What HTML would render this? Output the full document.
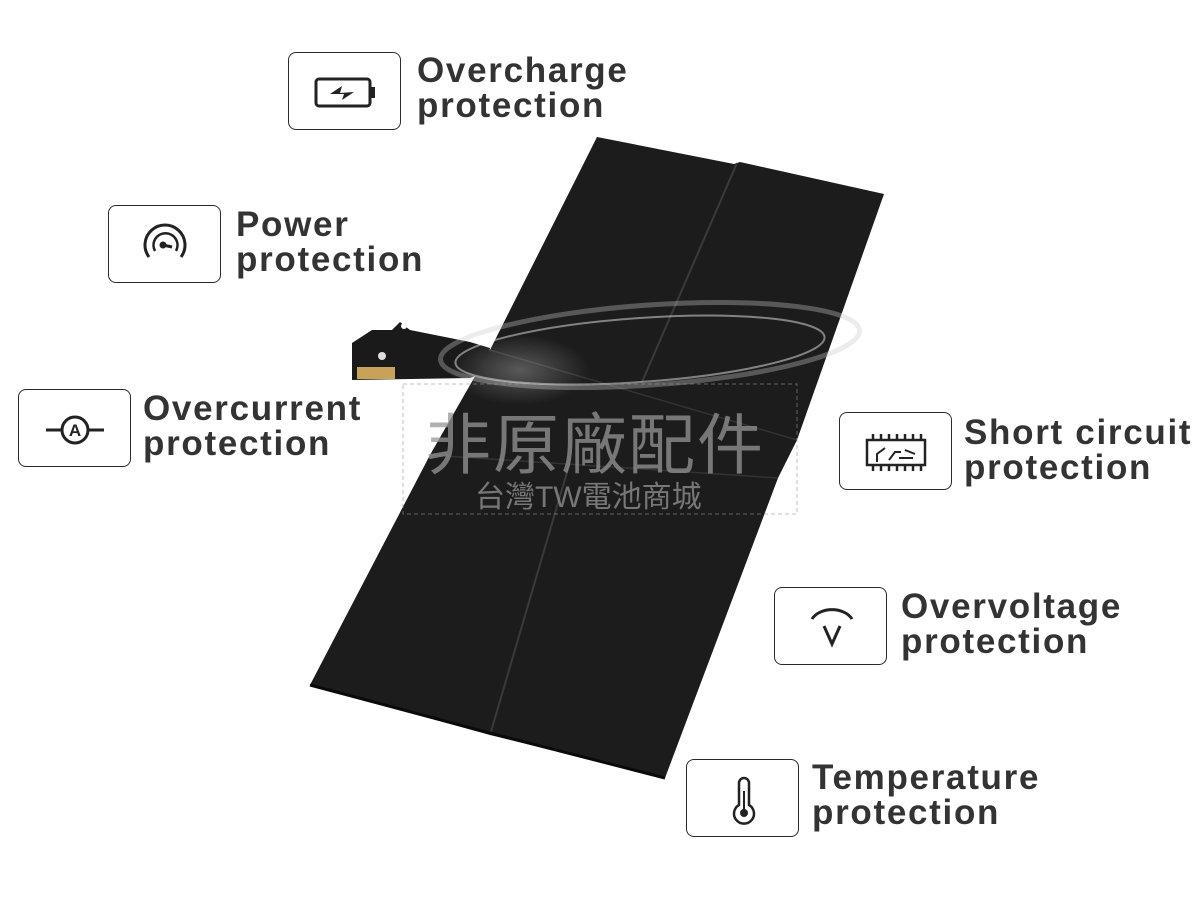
<!DOCTYPE html>
<html><head><meta charset="utf-8"><style>
body{margin:0;width:1200px;height:900px;background:#fff;position:relative;overflow:hidden;font-family:"Liberation Sans",sans-serif}
.box{position:absolute;width:113px;height:78px;border:1.5px solid #2a2a2a;border-radius:8px;box-sizing:border-box;background:#fff}
.box svg{position:absolute;left:0;top:0}
.lbl{position:absolute;font-weight:bold;font-size:35px;line-height:35px;color:#333;letter-spacing:1.7px}
.wm{position:absolute;font-family:"Liberation Sans","Noto Sans CJK TC",sans-serif;color:rgba(150,150,150,0.75);white-space:nowrap}
</style></head><body>
<svg width="1200" height="900" style="position:absolute;left:0;top:0">
<defs><radialGradient id="g" cx="0.5" cy="0.5" r="0.5"><stop offset="0" stop-color="#fff" stop-opacity="0.9"/><stop offset="1" stop-color="#fff" stop-opacity="0"/></radialGradient></defs>
<polygon points="352,343 372,330 392,330 400,322 410,330 470,342 490,348 486,372 470,378 352,380" fill="#1a1a1a"/>
<circle cx="382" cy="356" r="4" fill="#ddd"/>
<circle cx="404" cy="326" r="3" fill="#fff"/>
<rect x="357" y="367" width="38" height="12" fill="#c9a25a"/>
<polygon points="597,137 734,164 740,162 884,194 797,440 778,478 665,778 490,735 310,685 430,455 490,350" fill="#1c1c1c"/>
<line x1="737" y1="163" x2="642" y2="382" stroke="#3a3a3a" stroke-width="2"/>
<line x1="570" y1="462" x2="490" y2="735" stroke="#3a3a3a" stroke-width="2"/>
<line x1="490" y1="350" x2="797" y2="440" stroke="#333" stroke-width="1.5"/>
<line x1="430" y1="455" x2="778" y2="478" stroke="#333" stroke-width="1.5"/>
<polyline points="310,685 486,732 665,778" fill="none" stroke="#0a0a0a" stroke-width="3"/>
<ellipse cx="650" cy="345" rx="210" ry="40" fill="none" stroke="rgba(200,200,200,0.35)" stroke-width="5" transform="rotate(-4 650 345)"/>
<ellipse cx="640" cy="350" rx="185" ry="32" fill="none" stroke="rgba(255,255,255,0.45)" stroke-width="2" transform="rotate(-4 640 350)"/>
<ellipse cx="520" cy="370" rx="70" ry="35" fill="url(#g)" opacity="0.3"/>
<rect x="403" y="384" width="394" height="130" fill="none" stroke="rgba(150,150,150,0.6)" stroke-dasharray="4 3"/>
</svg>
<div class="wm" style="left:425px;top:392px;font-size:66px;letter-spacing:2px">非原廠配件</div>
<div class="wm" style="left:475px;top:472px;font-size:30px">台灣TW電池商城</div>

<div class="box" style="left:288px;top:52px"><svg width="113" height="78"><rect x="27" y="26" width="54" height="27" rx="3" fill="none" stroke="#222" stroke-width="3"/><rect x="82" y="34" width="4" height="11" fill="#222"/><path d="M41 41 L53 33 L51 40 L65 39 L53 47 L55 41 Z" fill="#222"/></svg></div>
<div class="lbl" style="left:417px;top:53px">Overcharge<br>protection</div>

<div class="box" style="left:108px;top:205px"><svg width="113" height="78"><path d="M40 51 A20 20 0 1 1 72 51" fill="none" stroke="#222" stroke-width="3"/><path d="M46 45 A12 12 0 1 1 67 45" fill="none" stroke="#222" stroke-width="2.5"/><circle cx="54" cy="39" r="3.5" fill="#222"/><line x1="54" y1="39" x2="63" y2="41" stroke="#222" stroke-width="3"/></svg></div>
<div class="lbl" style="left:236px;top:207px">Power<br>protection</div>

<div class="box" style="left:18px;top:389px"><svg width="113" height="78"><circle cx="56" cy="40" r="13" fill="none" stroke="#222" stroke-width="3"/><line x1="27" y1="40" x2="43" y2="40" stroke="#222" stroke-width="3"/><line x1="69" y1="40" x2="85" y2="40" stroke="#222" stroke-width="3"/><text x="56" y="46" text-anchor="middle" font-size="17" font-weight="bold" font-family="Liberation Sans" fill="#222">A</text></svg></div>
<div class="lbl" style="left:143px;top:391px">Overcurrent<br>protection</div>

<div class="box" style="left:839px;top:412px"><svg width="113" height="78"><rect x="27" y="27" width="58" height="25" fill="none" stroke="#222" stroke-width="2.5"/><g stroke="#222" stroke-width="2.5"><line x1="33" y1="21" x2="33" y2="27"/><line x1="41" y1="21" x2="41" y2="27"/><line x1="49" y1="21" x2="49" y2="27"/><line x1="57" y1="21" x2="57" y2="27"/><line x1="65" y1="21" x2="65" y2="27"/><line x1="73" y1="21" x2="73" y2="27"/><line x1="81" y1="21" x2="81" y2="27"/><line x1="33" y1="52" x2="33" y2="58"/><line x1="41" y1="52" x2="41" y2="58"/><line x1="49" y1="52" x2="49" y2="58"/><line x1="57" y1="52" x2="57" y2="58"/><line x1="65" y1="52" x2="65" y2="58"/><line x1="73" y1="52" x2="73" y2="58"/><line x1="81" y1="52" x2="81" y2="58"/></g><path d="M37 49 L37 41 L45 35 M49 47 L55 39 L61 39 M59 45 L73 45 M65 37 L75 41" fill="none" stroke="#222" stroke-width="2"/></svg></div>
<div class="lbl" style="left:964px;top:415px">Short circuit<br>protection</div>

<div class="box" style="left:774px;top:587px"><svg width="113" height="78"><path d="M37 31 A22 16 0 0 1 77 31" fill="none" stroke="#222" stroke-width="3"/><path d="M49 38 L57 56 L65 38" fill="none" stroke="#222" stroke-width="3"/></svg></div>
<div class="lbl" style="left:901px;top:589px">Overvoltage<br>protection</div>

<div class="box" style="left:686px;top:759px"><svg width="113" height="78"><path d="M52 45 L52 23 A5 5 0 0 1 62 23 L62 45 A10 10 0 1 1 52 45 Z" fill="none" stroke="#222" stroke-width="2.5"/><circle cx="57" cy="53" r="4" fill="#222"/><line x1="57" y1="31" x2="57" y2="51" stroke="#222" stroke-width="2"/></svg></div>
<div class="lbl" style="left:812px;top:760px">Temperature<br>protection</div>
</body></html>
